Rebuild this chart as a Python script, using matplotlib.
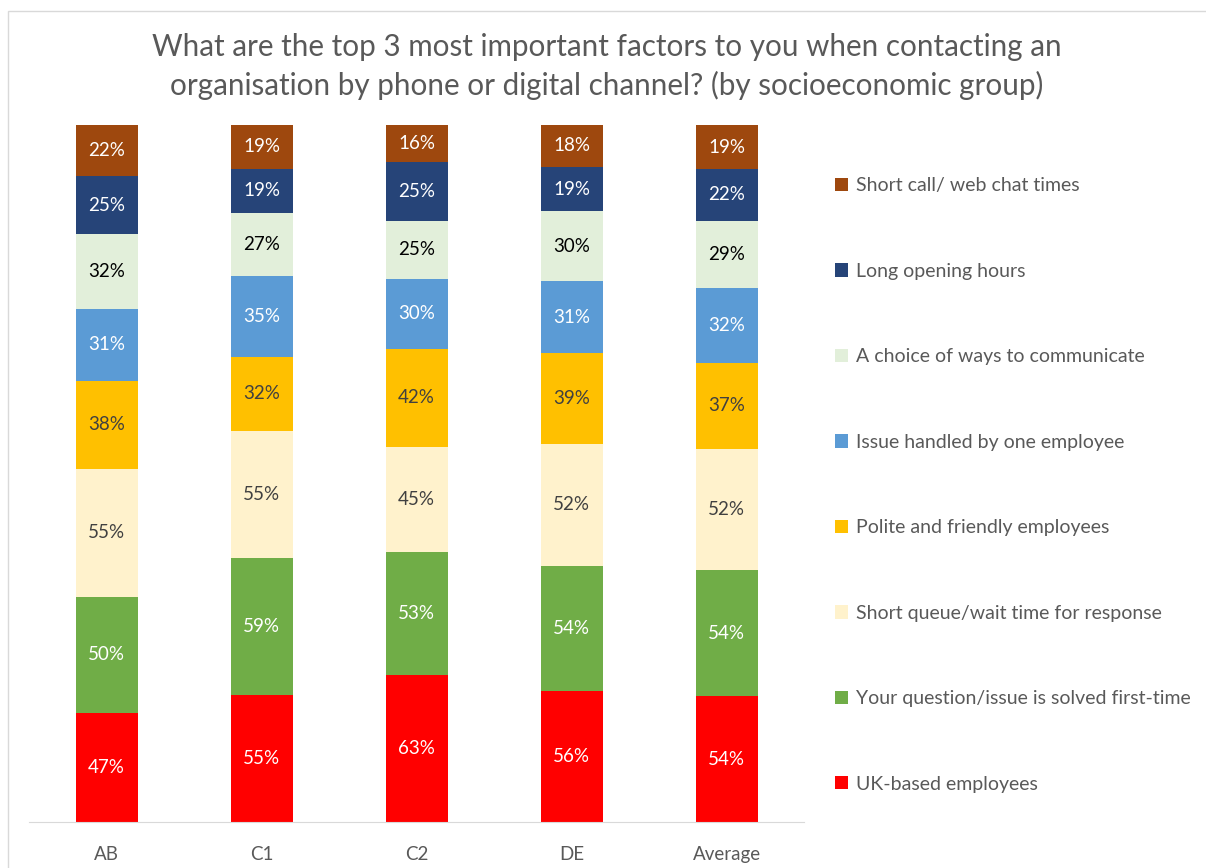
import numpy as np
import matplotlib.pyplot as plt
from matplotlib.patches import Rectangle

groups = ["AB", "C1", "C2", "DE", "Average"]

# bottom to top
series = [
    "UK-based employees",
    "Your question/issue is solved first-time",
    "Short queue/wait time for response",
    "Polite and friendly employees",
    "Issue handled by one employee",
    "A choice of ways to communicate",
    "Long opening hours",
    "Short call/ web chat times",
]
uk_based = [47, 55, 63, 56, 54]
first_time = [50, 59, 53, 54, 54]
short_queue = [55, 55, 45, 52, 52]
polite = [38, 32, 42, 39, 37]
one_employee = [31, 35, 30, 31, 32]
choice_ways = [32, 27, 25, 30, 29]
opening_hours = [25, 19, 25, 19, 22]
short_call = [22, 19, 16, 18, 19]

values = [uk_based, first_time, short_queue, polite, one_employee,
          choice_ways, opening_hours, short_call]
colors = ["#FF0000", "#70AD47", "#FFF2CC", "#FFC000", "#5B9BD5",
          "#E2EFDA", "#264478", "#9E480E"]
label_colors = ["white", "white", "#404040", "#404040", "white",
                "black", "white", "white"]

plt.rcParams['font.family'] = ['Lato', 'DejaVu Sans']

fig = plt.figure(figsize=(12.06, 8.68), dpi=100)
ax = fig.add_axes([29 / 1206, 1 - 822 / 868, 775 / 1206, 697 / 868])

# chart frame
fig.patches.append(Rectangle((8 / 1206, -0.1), 1.1, 1 - 11 / 868 + 0.1,
                             transform=fig.transFigure, fill=False,
                             edgecolor="#D9D9D9", linewidth=1))

vals = np.array(values, dtype=float)
totals = vals.sum(axis=0)
shares = vals / totals

x = np.arange(len(groups))
bottom = np.zeros(len(groups))
bars = []
for i, name in enumerate(series):
    b = ax.bar(x, shares[i], 0.4, bottom=bottom, color=colors[i], label=name)
    ax.bar_label(b, labels=[f"{v}%" for v in values[i]], label_type="center",
                 color=label_colors[i], fontsize=13.5)
    bottom += shares[i]
    bars.append(b)

ax.set_xlim(-0.5, len(groups) - 0.5)
ax.set_ylim(0, 1)
ax.set_xticks(x)
ax.set_xticklabels(groups, fontsize=13.5, color="#595959")
ax.tick_params(axis="x", length=0, pad=17)
ax.set_yticks([])
for s in ["top", "right", "left"]:
    ax.spines[s].set_visible(False)
ax.spines["bottom"].set_color("#D9D9D9")

handles = bars[::-1]
leg = ax.legend(handles, series[::-1], loc="upper left",
                bbox_to_anchor=(817 / 1206, 1 - 160 / 868),
                bbox_transform=fig.transFigure, frameon=False,
                fontsize=14, labelspacing=3.52, handlelength=0.68,
                handleheight=0.68, handletextpad=0.42)
for t in leg.get_texts():
    t.set_color("#595959")

fig.text(607 / 1206, 1 - 47 / 868,
         "What are the top 3 most important factors to you when contacting an",
         ha="center", va="center", fontsize=21.3, color="#595959")
fig.text(607 / 1206, 1 - 85 / 868,
         "organisation by phone or digital channel? (by socioeconomic group)",
         ha="center", va="center", fontsize=21.3, color="#595959")

fig.savefig("out.png", dpi=100)
